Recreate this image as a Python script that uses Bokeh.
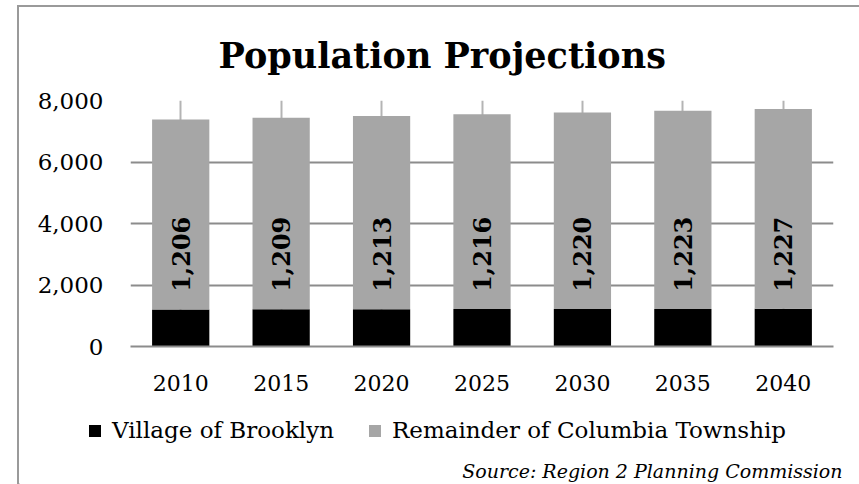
from bokeh.plotting import figure
from bokeh.models import (ColumnDataSource, FactorRange, Range1d, Legend, LegendItem,
                          Title, LabelSet, Label, NumeralTickFormatter, FixedTicker)
from bokeh.embed import file_html
from bokeh.resources import INLINE
from bokeh.core.properties import value
import math

years = ["2010", "2015", "2020", "2025", "2030", "2035", "2040"]
brooklyn = [1206, 1209, 1213, 1216, 1220, 1223, 1227]
remainder = [6179, 6231, 6282, 6334, 6390, 6442, 6498]
y_ticks = [0, 2000, 4000, 6000, 8000]
series_names = ["Village of Brooklyn", "Remainder of Columbia Township"]
series_colors = ["#000000", "#a6a6a6"]
title_text = "Population Projections"
source_text = "Source: Region 2 Planning Commission"

FONT = "DejaVu Serif"
GRID = "#8c8c8c"
BORDER = "2px solid #9a9a9a"

src = ColumnDataSource(dict(
    year=years,
    brooklyn=brooklyn,
    remainder=remainder,
    label=[f"{v:,}" for v in brooklyn],
))

# ---------------- main chart ----------------
p = figure(frame_width=703, frame_height=246, x_range=FactorRange(*years), y_range=Range1d(0, 8000),
           output_backend="svg", toolbar_location=None,
           min_border_left=111, min_border_right=26, min_border_top=93, min_border_bottom=58)
p.margin = (5, 0, 0, 17)
p.styles = {"border-left": BORDER, "border-top": BORDER}
p.outline_line_color = None
p.background_fill_color = "white"
p.border_fill_color = "white"

renderers = p.vbar_stack(["brooklyn", "remainder"], x="year", width=0.57,
                         color=series_colors, line_color=None, source=src)

labels = LabelSet(x="year", y=3000, text="label", source=src, angle=math.pi / 2,
                  text_align="center", text_baseline="middle",
                  text_font=value(FONT), text_font_style="bold", text_font_size="24px",
                  text_color="#000000")
p.add_layout(labels)

p.yaxis.ticker = FixedTicker(ticks=y_ticks)
p.yaxis.formatter = NumeralTickFormatter(format="0,0")
p.yaxis.axis_line_color = None
p.yaxis.major_tick_line_color = None
p.yaxis.minor_tick_line_color = None
p.yaxis.major_label_standoff = 21
p.yaxis.major_label_text_font = FONT
p.yaxis.major_label_text_font_size = "23px"
p.yaxis.major_label_text_color = "#000000"

p.xaxis.axis_line_color = GRID
p.xaxis.axis_line_width = 2
p.xaxis.major_tick_line_color = None
p.xaxis.minor_tick_line_color = None
p.xaxis.major_label_standoff = 22
p.xaxis.major_label_text_font = FONT
p.xaxis.major_label_text_font_size = "22px"
p.xaxis.major_label_text_color = "#000000"

p.ygrid.grid_line_color = GRID
p.ygrid.grid_line_width = 2
p.xgrid.grid_line_color = "#b4b4b4"
p.xgrid.grid_line_width = 2

p.title = Title(text=title_text, align="left", text_font=FONT, text_font_style="bold",
                text_font_size="35px", text_color="#000000", offset=88, standoff=49)

# ---------------- legend + source strip (separate root, no frame alignment) ----------------
q = figure(width=840, height=80, x_range=Range1d(0, 840), y_range=Range1d(0, 80),
           x_axis_type=None, y_axis_type=None, output_backend="svg", toolbar_location=None,
           min_border=0)
q.margin = (0, 0, 0, 17)
q.styles = {"border-left": BORDER}
q.outline_line_color = None
q.grid.visible = False
q.background_fill_color = "white"
q.border_fill_color = "white"

# legend proxies: same series colours, drawn outside the visible range
proxy_src = ColumnDataSource(dict(x=[-100], top=[1]))
proxies = [q.vbar(x="x", top="top", width=1, source=proxy_src, color=c, line_color=None)
           for c in series_colors]

legend = Legend(items=[LegendItem(label=n, renderers=[r]) for n, r in zip(series_names, proxies)],
                orientation="horizontal", location=(68, 41),
                label_text_font=FONT, label_text_font_size="23px", label_text_color="#000000",
                glyph_width=15, glyph_height=15, label_standoff=10, spacing=33,
                padding=0, margin=0, border_line_color=None, background_fill_alpha=0)
q.add_layout(legend, "center")

q.add_layout(Label(x=823, y=14, text=source_text, text_align="right", text_baseline="middle",
                   text_font=FONT, text_font_style="italic", text_font_size="19px",
                   text_color="#000000"))

open("out.html", "w").write(file_html((p, q), INLINE))
